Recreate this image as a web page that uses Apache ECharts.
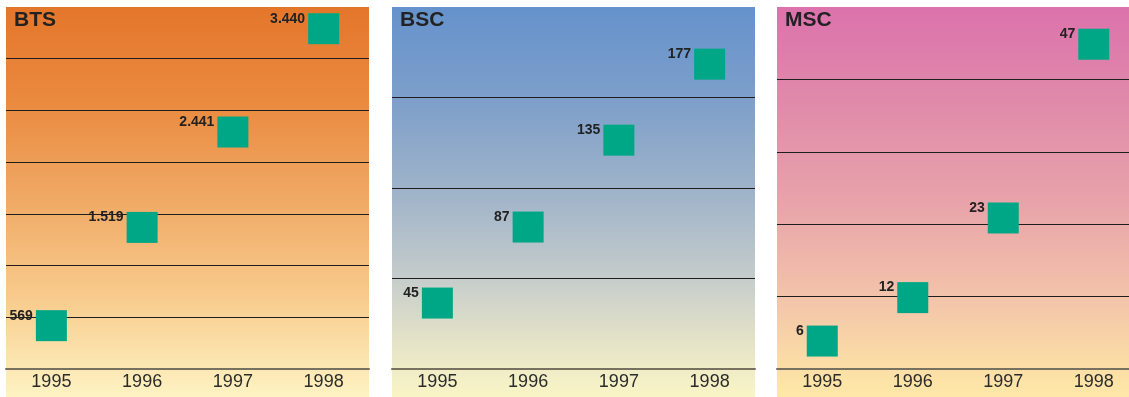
<!DOCTYPE html>
<html>
<head>
<meta charset="utf-8">
<script src="https://cdn.jsdelivr.net/npm/echarts@6/dist/echarts.min.js"></script>
<style>
html,body{margin:0;padding:0;background:#fff;}
#c{width:1129px;height:397px;}
</style>
</head>
<body>
<div id="c"></div>
<script>
// ---- data ----
var years = ['1995', '1996', '1997', '1998'];
var panelTitles = ['BTS', 'BSC', 'MSC'];
var btsValues = [569, 1519, 2441, 3440];
var bscValues = [45, 87, 135, 177];
var mscValues = [6, 12, 23, 47];
var yMax = [3500, 200, 50];
var yStep = [500, 50, 10];

// ---- layout / style ----
var FONT = "'Liberation Sans', Arial, Helvetica, sans-serif";
var panels = [
  { left: 6, width: 363, values: btsValues,
    stops: [[0, '#e4762a'], [0.25, '#ea8b40'], [0.5, '#f0aa66'], [0.75, '#f8cc8e'], [1, '#fef3c3']] },
  { left: 392, width: 363, values: bscValues,
    stops: [[0, '#6592cc'], [0.25, '#7fa0ca'], [0.5, '#a3b6c9'], [0.7, '#c6cdcb'], [0.85, '#e3e2c8'], [1, '#faf5c6']] },
  { left: 777, width: 362, values: mscValues,
    stops: [[0, '#dc72ac'], [0.25, '#e08baa'], [0.5, '#e8a3aa'], [0.75, '#f3c4aa'], [0.9, '#fadba6'], [1, '#fee8a8']] }
];
var TOP = 7, H = 362;

function fmt(v) {
  return String(v).replace(/\B(?=(\d{3})+(?!\d))/g, '.');
}

var chart = echarts.init(document.getElementById('c'), null, { renderer: 'canvas' });

var option = {
  animation: false,
  backgroundColor: '#ffffff',
  textStyle: { fontFamily: FONT },
  graphic: { elements: panels.map(function (p) {
    return {
      type: 'rect', z: -10, silent: true,
      shape: { x: p.left, y: TOP, width: Math.min(p.width, 1129 - p.left), height: 397 - TOP },
      style: { fill: new echarts.graphic.LinearGradient(0, 0, 0, 1,
        p.stops.map(function (s) { return { offset: s[0], color: s[1] }; })) }
    };
  }) },
  title: panels.map(function (p, i) {
    return {
      text: panelTitles[i], left: p.left + 8, top: 10, padding: 0,
      textStyle: { fontFamily: FONT, fontSize: 21, fontWeight: 'bold', color: '#222' }
    };
  }),
  grid: panels.map(function (p) {
    return { left: p.left, top: TOP, width: p.width, height: H,
      containLabel: false, outerBoundsMode: 'none' };
  }),
  xAxis: panels.map(function (p, i) {
    return {
      type: 'category', gridIndex: i, data: years, boundaryGap: true,
      axisLine: { show: true, lineStyle: { color: '#76725f', width: 2 } },
      axisTick: { show: false },
      axisLabel: { fontFamily: FONT, fontSize: 18, color: '#2b2b2b', margin: 4 },
      splitLine: { show: false }
    };
  }),
  yAxis: panels.map(function (p, i) {
    return {
      type: 'value', gridIndex: i, min: 0, max: yMax[i], interval: yStep[i],
      axisLine: { show: false }, axisTick: { show: false }, axisLabel: { show: false },
      splitLine: { show: true, showMinLine: false, showMaxLine: false,
        lineStyle: { color: '#1e1e1e', width: 1 } }
    };
  }),
  series: panels.map(function (p, i) {
    return {
      type: 'scatter', xAxisIndex: i, yAxisIndex: i,
      data: p.values,
      symbol: 'rect', symbolSize: 31, symbolOffset: [0, 15.5],
      itemStyle: { color: '#00a786', opacity: 1 },
      label: {
        show: true, position: [-3, 5.5], align: 'right', verticalAlign: 'middle',
        fontFamily: FONT, fontSize: 14, fontWeight: 'bold', color: '#222',
        formatter: function (d) { return fmt(d.value); }
      },
      emphasis: { disabled: true }
    };
  })
};

chart.setOption(option);
</script>
</body>
</html>
